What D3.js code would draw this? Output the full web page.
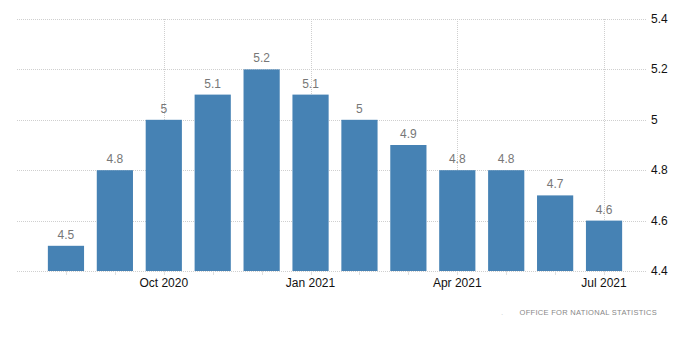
<!DOCTYPE html>
<html><head><meta charset="utf-8">
<script src="https://cdn.jsdelivr.net/npm/d3@7"></script>
<style>body{margin:0;background:#fff;} svg{display:block;}</style>
</head><body>
<svg id="c" width="700" height="357"></svg>
<script>
const months = ["Aug 2020","Sep 2020","Oct 2020","Nov 2020","Dec 2020","Jan 2021","Feb 2021","Mar 2021","Apr 2021","May 2021","Jun 2021","Jul 2021"];
const values = [4.5,4.8,5,5.1,5.2,5.1,5,4.9,4.8,4.8,4.7,4.6];
const xTickLabels = ["Oct 2020","Jan 2021","Apr 2021","Jul 2021"];
const yTicks = [4.4,4.6,4.8,5,5.2,5.4];
const source = "OFFICE FOR NATIONAL STATISTICS";

const svg = d3.select("#c");
const font = "'Liberation Sans', Arial, sans-serif";
const x = d3.scaleBand().domain(months).range([41.5, 628.5]).paddingInner(0.26).paddingOuter(0.13);
const y = d3.scaleLinear().domain([4.4, 5.4]).range([271, 19]);
const gx0 = 17, gx1 = 646;

// horizontal gridlines
svg.append("g").selectAll("line").data(yTicks).join("line")
  .attr("x1", gx0).attr("x2", gx1)
  .attr("y1", d => Math.round(y(d)) + 0.5).attr("y2", d => Math.round(y(d)) + 0.5)
  .attr("stroke", "#cfcfcf").attr("stroke-dasharray", "1,1");

// vertical gridlines
svg.append("g").selectAll("line").data(xTickLabels).join("line")
  .attr("x1", d => Math.round(x(d) + x.bandwidth()/2) + 0.5)
  .attr("x2", d => Math.round(x(d) + x.bandwidth()/2) + 0.5)
  .attr("y1", y(5.4)).attr("y2", y(4.4))
  .attr("stroke", "#cfcfcf").attr("stroke-dasharray", "1,1");

// small ticks under axis
svg.append("g").selectAll("line").data(months).join("line")
  .attr("x1", d => Math.round(x(d) + x.bandwidth()/2) + 0.5)
  .attr("x2", d => Math.round(x(d) + x.bandwidth()/2) + 0.5)
  .attr("y1", y(4.4)).attr("y2", y(4.4) + 4)
  .attr("stroke", "#e0e0e0");

// bars
svg.append("g").selectAll("rect").data(values).join("rect")
  .attr("x", (d,i) => x(months[i]))
  .attr("width", x.bandwidth())
  .attr("y", d => y(d))
  .attr("height", d => y(4.4) - y(d))
  .attr("fill", "#4682b4");

// value labels
svg.append("g").selectAll("text").data(values).join("text")
  .attr("x", (d,i) => x(months[i]) + x.bandwidth()/2)
  .attr("y", d => y(d) - 7)
  .attr("text-anchor", "middle")
  .attr("font-family", font).attr("font-size", 12)
  .attr("fill", "#777")
  .text(d => d);

// y axis labels (right)
svg.append("g").selectAll("text").data(yTicks).join("text")
  .attr("x", 651).attr("y", d => y(d) + 4)
  .attr("font-family", font).attr("font-size", 12)
  .attr("fill", "#111")
  .text(d => d3.format("~g")(d));

// x axis labels
svg.append("g").selectAll("text").data(xTickLabels).join("text")
  .attr("x", d => x(d) + x.bandwidth()/2)
  .attr("y", 287)
  .attr("text-anchor", "middle")
  .attr("font-family", font).attr("font-size", 12)
  .attr("fill", "#111")
  .text(d => d);

// source
svg.append("text").attr("x", 501).attr("y", 315)
  .attr("font-family", font).attr("font-size", 8).attr("fill", "#ccc").text(".");
svg.append("text").attr("x", 657).attr("y", 315)
  .attr("text-anchor", "end")
  .attr("font-family", font).attr("font-size", 7.5).attr("letter-spacing", 0.3)
  .attr("fill", "#888")
  .text(source);
</script>
</body></html>
